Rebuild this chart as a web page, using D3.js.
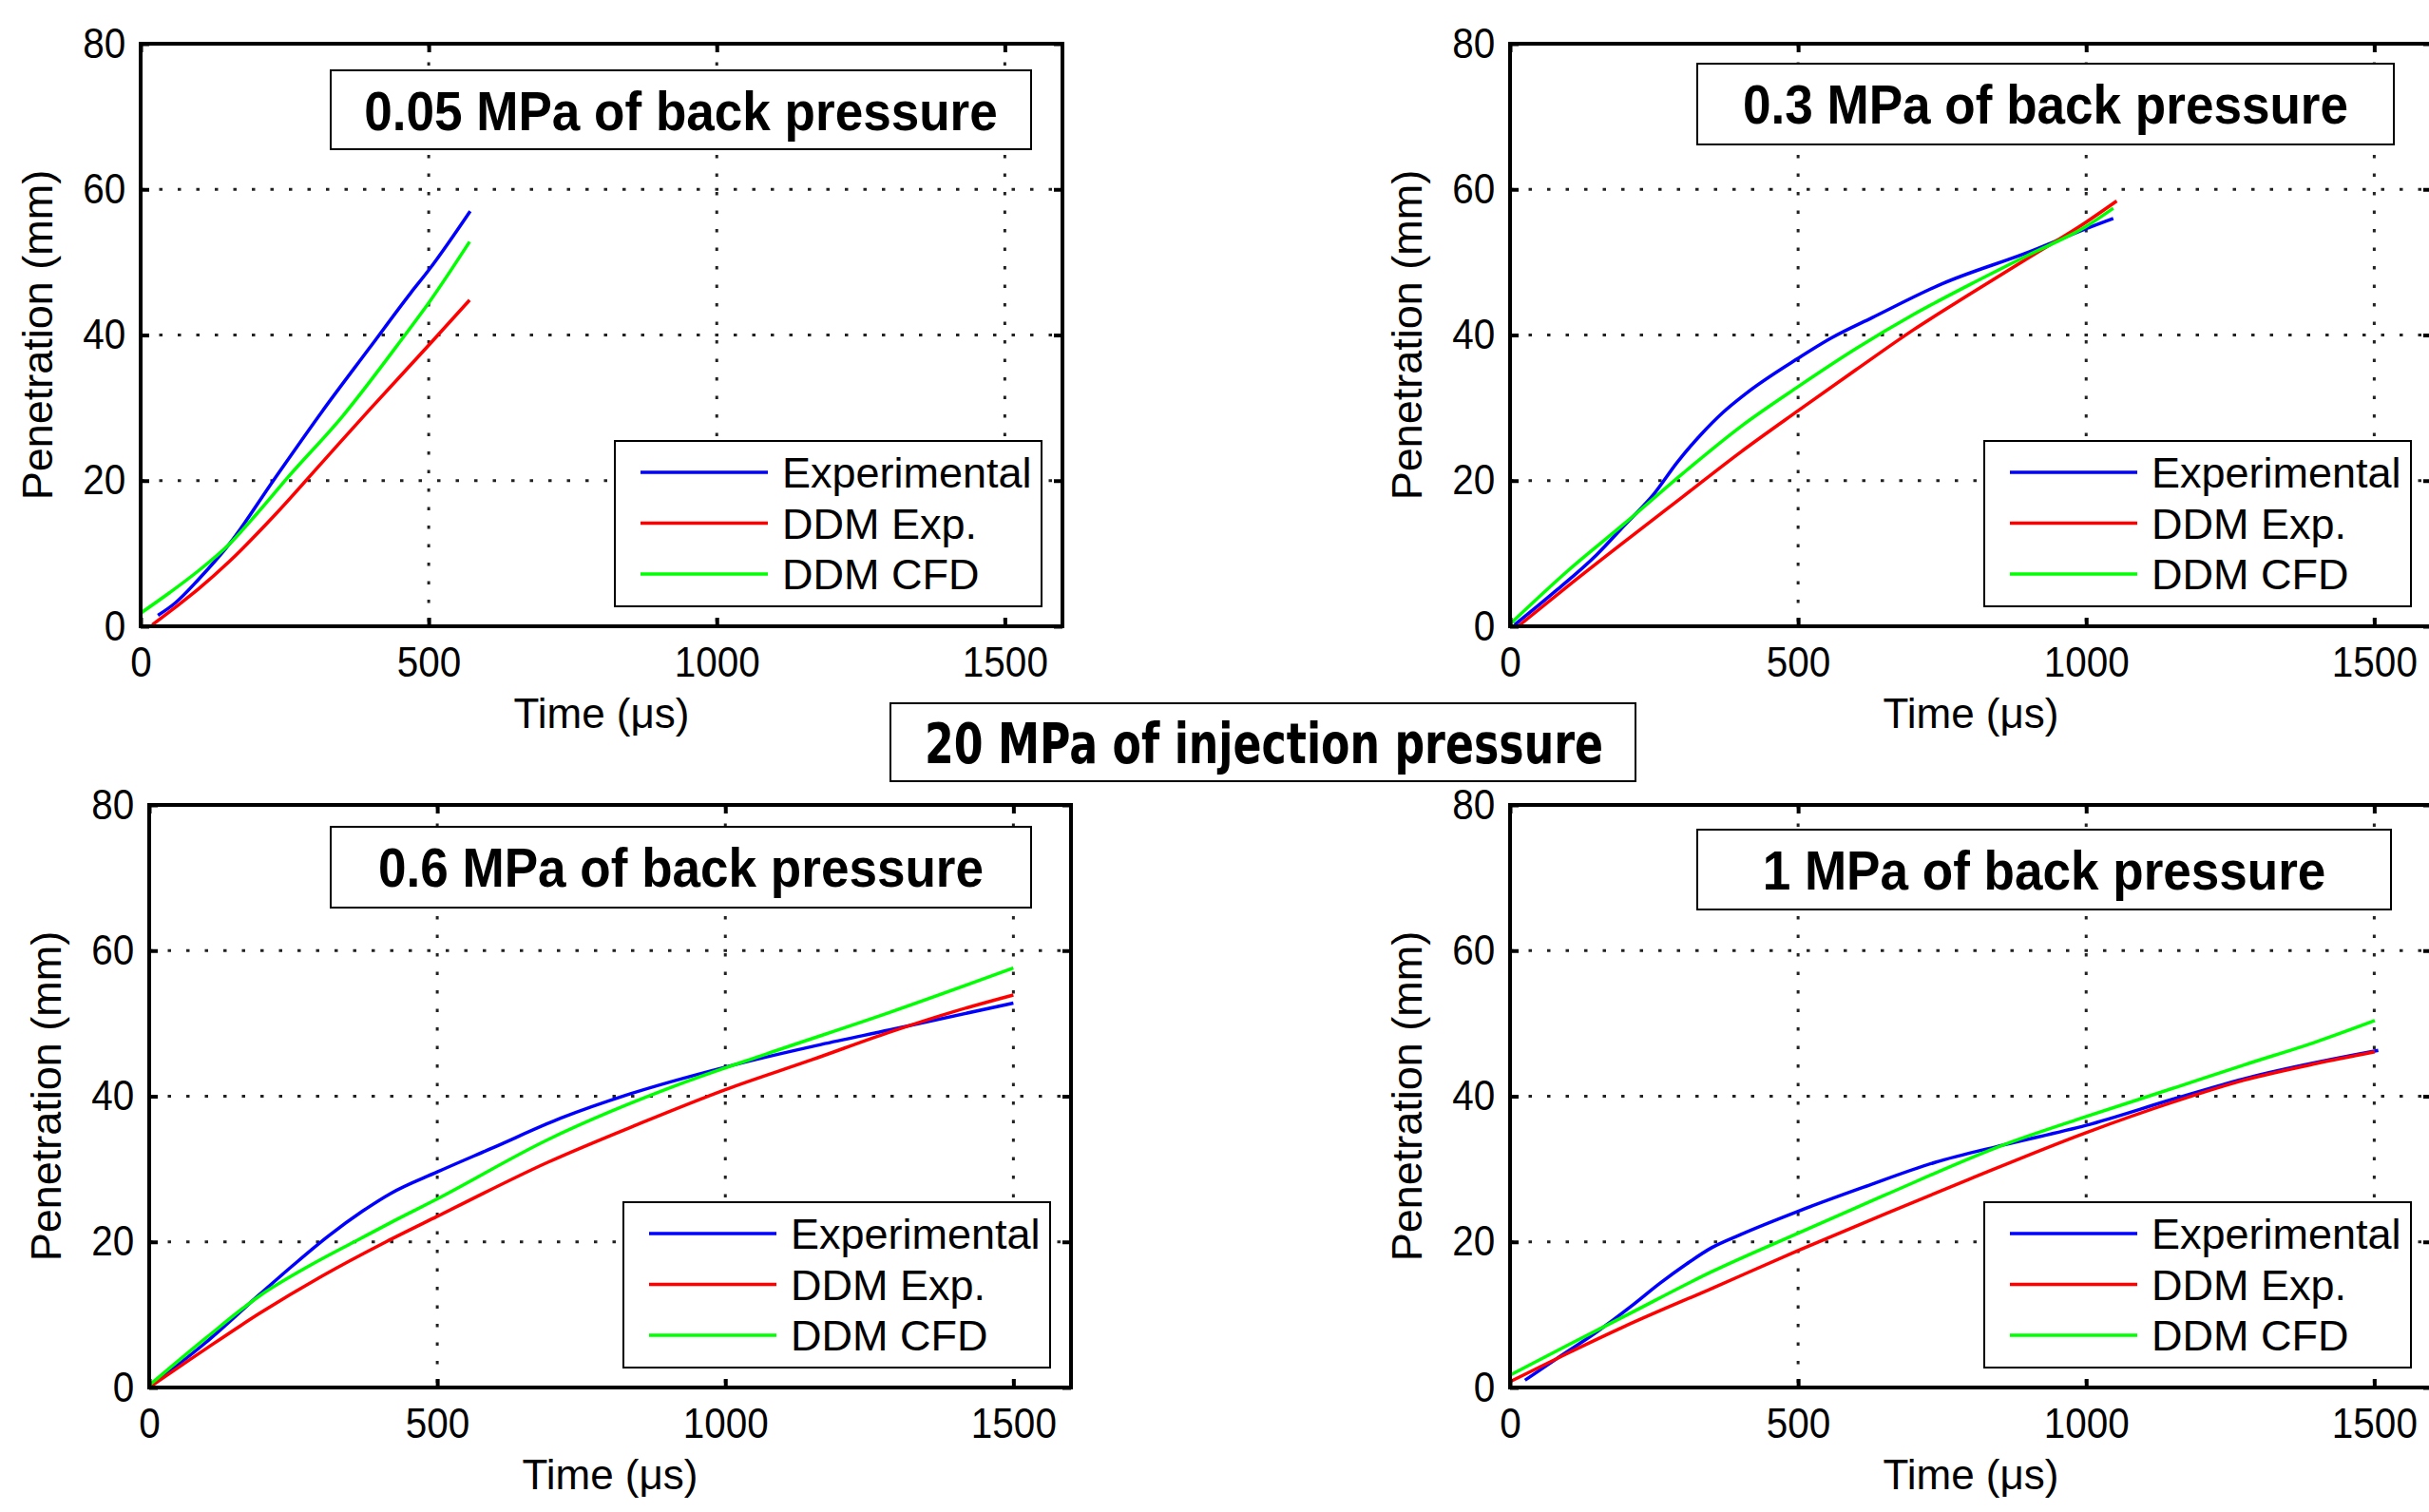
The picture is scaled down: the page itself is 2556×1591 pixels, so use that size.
<!DOCTYPE html>
<html>
<head>
<meta charset="utf-8">
<script src="https://cdn.jsdelivr.net/npm/d3@7"></script>
<style>
  html, body { margin: 0; padding: 0; background: #fff; }
  svg { display: block; }
</style>
</head>
<body>
<svg id="chart"></svg>
<script>
// ---- data ----
const timeTicks = [0, 500, 1000, 1500]
const penTicks = [0, 20, 40, 60, 80]
const seriesNames = ["Experimental", "DDM Exp.", "DDM CFD"]
const seriesColors = ["#0000ff", "#ff0000", "#00ff00"]
const panelTitles = ["0.05 MPa of back pressure", "0.3 MPa of back pressure",
                     "0.6 MPa of back pressure", "1 MPa of back pressure"]
const mainTitle = "20 MPa of injection pressure"

// [time (us), penetration (mm)]
const exp005 = [[30,1.5],[60,3.2],[100,6.4],[154,11.3],[232,20.2],[315,29.5],[398,38.3],[469,45.8],[500,48.9],[572,57.0]]
const ddmExp005 = [[20,0.2],[60,2.6],[100,5.1],[154,8.9],[232,15.2],[315,22.5],[398,29.8],[500,38.6],[571,44.8]]
const ddmCfd005 = [[0,1.8],[50,4.6],[100,7.6],[154,11.3],[200,15.3],[255,20.4],[350,28.8],[457,39.8],[500,44.4],[571,52.8]]

const exp03 = [[8,0.2],[80,4.9],[150,9.8],[199,13.9],[250,18.2],[290,22.5],[331,26.3],[370,29.4],[410,32.0],[500,36.8],[558,39.6],[629,42.4],[749,47.0],[904,51.5],[1000,54.6],[1047,56.0]]
const ddmExp03 = [[14,0],[100,5.5],[200,11.7],[300,17.8],[400,23.9],[500,29.6],[600,35.2],[700,40.7],[800,45.7],[900,50.6],[1000,55.5],[1053,58.4]]
const ddmCfd03 = [[0,0.3],[100,7.6],[200,14.2],[300,21.0],[400,27.4],[500,32.9],[600,38.1],[700,42.8],[800,47.0],[900,51.0],[1000,54.9],[1047,57.4]]

const exp06 = [[0,0.1],[97,6.1],[192,12.8],[250,16.8],[311,20.8],[370,24.2],[418,26.6],[500,29.6],[596,32.9],[715,37.0],[834,40.3],[1000,44.0],[1166,47.1],[1285,49.1],[1500,52.8]]
const ddmExp06 = [[0,0],[100,5.4],[192,10.2],[300,15.3],[411,20.0],[500,23.5],[691,30.9],[850,36.2],[1000,40.9],[1150,45.0],[1285,48.8],[1400,51.7],[1500,53.9]]
const ddmCfd06 = [[0,0.3],[100,6.9],[192,12.6],[280,16.8],[363,20.3],[418,22.6],[500,25.9],[691,34.0],[929,41.9],[1071,45.8],[1285,51.5],[1500,57.6]]

const exp1 = [[26,1.0],[80,3.9],[150,7.6],[211,11.2],[260,14.3],[307,17.0],[350,19.2],[400,21.0],[500,24.2],[617,27.6],[737,30.9],[856,33.3],[1000,36.0],[1155,39.7],[1274,42.4],[1507,46.3]]
const ddmExp1 = [[0,0.8],[100,4.7],[199,8.4],[350,13.6],[500,18.8],[650,23.8],[797,28.6],[1000,35.0],[1155,39.3],[1274,42.2],[1400,44.5],[1501,46.1]]
const ddmCfd1 = [[0,1.7],[100,5.8],[199,9.8],[350,15.9],[500,21.2],[650,26.4],[856,33.3],[1000,37.2],[1155,41.2],[1274,44.3],[1400,47.5],[1501,50.4]]

// ---- layout ----
const W = 2556, H = 1591
const plotW = 970, plotH = 613
const panels = [
  { left: 148,  top: 46,  title: [200, 937, 28, 111], series: [exp005, ddmExp005, ddmCfd005] },
  { left: 1589, top: 46,  title: [197, 930, 21, 106], series: [exp03, ddmExp03, ddmCfd03] },
  { left: 157,  top: 847, title: [191, 928, 23, 108], series: [exp06, ddmExp06, ddmCfd06] },
  { left: 1589, top: 847, title: [197, 927, 26, 110], series: [exp1, ddmExp1, ddmCfd1] }
]
const legendBox = [499, 948, 418, 592]
const font = "'Liberation Sans', Arial, sans-serif"

const svg = d3.select("#chart").attr("width", W).attr("height", H)
svg.append("rect").attr("width", W).attr("height", H).attr("fill", "#fff")

const x = d3.scaleLinear().domain([0, 1600]).range([0, plotW])
const y = d3.scaleLinear().domain([0, 80]).range([plotH, 0])
const line = d3.line().x(d => x(d[0])).y(d => y(d[1])).curve(d3.curveMonotoneX)
const fmt = d3.format("d")

panels.forEach((p, i) => {
  const g = svg.append("g").attr("transform", `translate(${p.left},${p.top})`)

  // dotted grid
  const grid = g.append("g")
  grid.selectAll("line.v")
    .data(timeTicks.filter(t => t > 0))
    .join("line")
    .attr("class", "v")
    .attr("x1", d => x(d)).attr("x2", d => x(d))
    .attr("y1", 0).attr("y2", plotH)
  grid.selectAll("line.h")
    .data(penTicks.filter(t => t > 0 && t < 80))
    .join("line")
    .attr("class", "h")
    .attr("x1", 0).attr("x2", plotW)
    .attr("y1", d => y(d)).attr("y2", d => y(d))
  grid.selectAll("line")
    .attr("stroke", "#222").attr("stroke-width", 3)
    .attr("stroke-dasharray", "3.5,16")

  // data lines
  g.append("g").selectAll("path")
    .data(p.series)
    .join("path")
    .attr("d", line)
    .attr("fill", "none")
    .attr("stroke", (d, k) => seriesColors[k])
    .attr("stroke-width", 3.5)

  // axes, ticks pointing inward
  const xb = g.append("g").attr("transform", `translate(0,${plotH})`)
    .call(d3.axisBottom(x).tickValues(timeTicks).tickFormat(fmt).tickSizeInner(-9).tickSizeOuter(0).tickPadding(22))
  const yl = g.append("g")
    .call(d3.axisLeft(y).tickValues(penTicks).tickFormat(fmt).tickSizeInner(-9).tickSizeOuter(0).tickPadding(17))
  g.append("g")
    .call(d3.axisTop(x).tickValues(timeTicks).tickSizeInner(-9).tickSizeOuter(0).tickFormat(""))
  g.append("g").attr("transform", `translate(${plotW},0)`)
    .call(d3.axisRight(y).tickValues(penTicks).tickSizeInner(-9).tickSizeOuter(0).tickFormat(""))
  g.selectAll(".domain").remove()
  g.selectAll(".tick line").attr("stroke", "#000").attr("stroke-width", 4)
  g.selectAll(".tick text")
    .attr("fill", "#000")
    .style("font-family", font)
    .style("font-size", "44px")
  xb.selectAll(".tick text").attr("transform", "scale(0.92,1)")
  yl.selectAll(".tick text").attr("transform", "scale(0.92,1)")

  // frame
  g.append("rect").attr("width", plotW).attr("height", plotH)
    .attr("fill", "none").attr("stroke", "#000").attr("stroke-width", 4)

  // axis labels
  g.append("text")
    .attr("transform", `translate(-93,${plotH / 2}) rotate(-90)`)
    .attr("text-anchor", "middle")
    .style("font-family", font)
    .style("font-size", "45px")
    .text("Penetration (mm)")
  g.append("text")
    .attr("x", plotW / 2).attr("y", plotH + 107)
    .attr("text-anchor", "middle")
    .style("font-family", font)
    .style("font-size", "44px")
    .text("Time (\u03bcs)")

  // panel title box
  const [tx0, tx1, ty0, ty1] = p.title
  g.append("rect")
    .attr("x", tx0).attr("y", ty0).attr("width", tx1 - tx0).attr("height", ty1 - ty0)
    .attr("fill", "#fff").attr("stroke", "#000").attr("stroke-width", 2)
  g.append("text")
    .attr("transform", `translate(${(tx0 + tx1) / 2},${ty0 + 63}) scale(0.915,1)`)
    .attr("text-anchor", "middle")
    .style("font-family", font)
    .style("font-weight", "bold")
    .style("font-size", "58px")
    .text(panelTitles[i])

  // legend
  const [lx0, lx1, ly0, ly1] = legendBox
  const lg = g.append("g")
  lg.append("rect")
    .attr("x", lx0).attr("y", ly0).attr("width", lx1 - lx0).attr("height", ly1 - ly0)
    .attr("fill", "#fff").attr("stroke", "#000").attr("stroke-width", 2)
  const rows = lg.selectAll("g.row")
    .data(seriesNames)
    .join("g")
    .attr("class", "row")
    .attr("transform", (d, k) => `translate(${lx0},${ly0 + 33 + k * 53.5})`)
  rows.append("line")
    .attr("x1", 27).attr("x2", 161)
    .attr("stroke", (d, k) => seriesColors[k]).attr("stroke-width", 3.5)
  rows.append("text")
    .attr("x", 176).attr("y", 16)
    .style("font-family", font)
    .style("font-size", "45px")
    .text(d => d)
})

// centre title
svg.append("rect")
  .attr("x", 937).attr("y", 740).attr("width", 784).attr("height", 82)
  .attr("fill", "#fff").attr("stroke", "#000").attr("stroke-width", 2)
svg.append("text")
  .attr("x", 1330).attr("y", 803)
  .attr("text-anchor", "middle")
  .attr("textLength", 714).attr("lengthAdjust", "spacingAndGlyphs")
  .style("font-family", "'DejaVu Sans', sans-serif")
  .style("font-weight", "bold")
  .style("font-size", "58px")
  .text(mainTitle)
</script>
</body>
</html>
